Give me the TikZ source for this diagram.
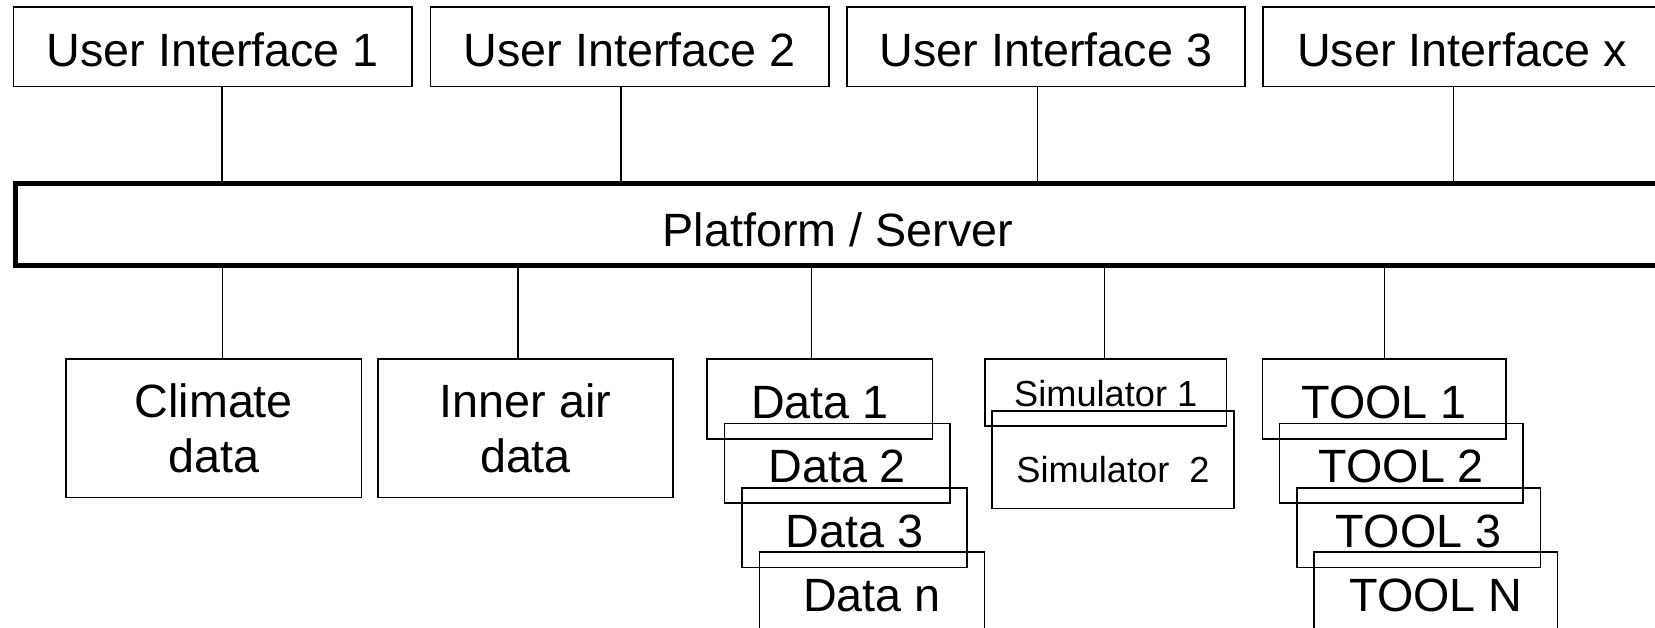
\documentclass[tikz,border=0pt]{standalone}
\usepackage{fontspec}
\setmainfont{Liberation Sans}
\begin{document}
\begin{tikzpicture}[x=1pt,y=-1pt,
  box/.style={draw,line width=1.6pt,rectangle,inner sep=0pt,outer sep=0pt,
    font=\fontsize{46.7pt}{55pt}\selectfont,align=center},
  oneline/.style={box,text height=39pt,text depth=0pt},
  uibox/.style={oneline,minimum width=398.5pt,minimum height=79.4pt},
  stackbox/.style={oneline,minimum height=79.4pt},
  simbox/.style={box,font=\fontsize{36.2pt}{43pt}\selectfont,text depth=0pt,minimum width=241.8pt},
  link/.style={line width=1.3pt}]
\useasboundingbox (0,0) rectangle (1655,628);

% clients on top
\node[uibox] (ui1) at (212.85,47) {User Interface 1};
\node[uibox] (ui2) at (629.75,47) {User Interface 2};
\node[uibox] (ui3) at (1046,47) {User Interface 3};
\node[uibox] (uix) at (1462,47) {User Interface x};

% central platform bar
\node[draw,line width=5pt,rectangle,inner sep=0pt,outer sep=0pt,
  minimum width=1646pt,minimum height=81.5pt,
  font=\fontsize{46.7pt}{55pt}\selectfont,text height=42.6pt,text depth=0pt]
  (plat) at (838,224.75) {Platform / Server};

% data sources
\node[box,minimum width=295.6pt,minimum height=138pt] (climate) at (213.8,428.3) {Climate\\data};
\node[box,minimum width=295pt,minimum height=138pt] (inner) at (525.5,428.3) {Inner air\\data};

\node[stackbox,minimum width=225.2pt] (data1) at (819.8,399) {Data 1};
\node[stackbox,minimum width=225.2pt] (data2) at (837.2,463.3) {Data 2};
\node[stackbox,minimum width=225.2pt] (data3) at (854.6,527.6) {Data 3};
\node[stackbox,minimum width=225.2pt] (datan) at (872,591.9) {Data n};

% simulators
\node[simbox,minimum height=66.7pt,text height=28.4pt] (sim1) at (1105.75,392.65) {Simulator 1};
\node[simbox,minimum height=97.5pt,text height=45.8pt] (sim2) at (1113,459.75) {Simulator\ \ 2};

% tools
\node[stackbox,minimum width=243.4pt] (tool1) at (1384,399) {TOOL 1};
\node[stackbox,minimum width=243.4pt] (tool2) at (1401.3,463.3) {TOOL 2};
\node[stackbox,minimum width=243.4pt] (tool3) at (1418.6,527.6) {TOOL 3};
\node[stackbox,minimum width=243.4pt] (tooln) at (1435.9,591.9) {TOOL N};

% connector columns
\coordinate (cu1) at (222,0);
\coordinate (cu2) at (621,0);
\coordinate (cu3) at (1037.5,0);
\coordinate (cux) at (1453.4,0);
\coordinate (cl1) at (222.3,0);
\coordinate (cl2) at (518,0);
\coordinate (cl3) at (811.5,0);
\coordinate (cl4) at (1104.5,0);
\coordinate (cl5) at (1384.3,0);

\draw[link] (ui1.south -| cu1) -- (plat.north -| cu1);
\draw[link] (ui2.south -| cu2) -- (plat.north -| cu2);
\draw[link] (ui3.south -| cu3) -- (plat.north -| cu3);
\draw[link] (uix.south -| cux) -- (plat.north -| cux);

\draw[link] (plat.south -| cl1) -- (climate.north -| cl1);
\draw[link] (plat.south -| cl2) -- (inner.north -| cl2);
\draw[link] (plat.south -| cl3) -- (data1.north -| cl3);
\draw[link] (plat.south -| cl4) -- (sim1.north -| cl4);
\draw[link] (plat.south -| cl5) -- (tool1.north -| cl5);
\end{tikzpicture}
\end{document}
